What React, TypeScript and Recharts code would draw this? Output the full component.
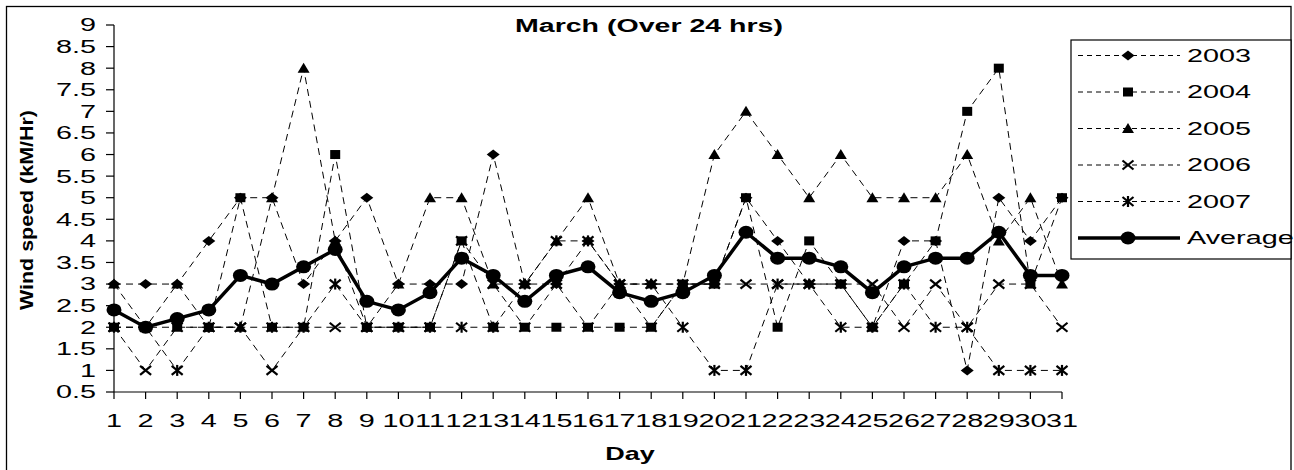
import React from 'react';
import { LineChart, Line, XAxis, YAxis } from 'recharts';

// Daily wind speed in March, 2003–2007, plus the five-year average
const days = ['1', '2', '3', '4', '5', '6', '7', '8', '9', '10', '11', '12', '13', '14', '15', '16',
  '17', '18', '19', '20', '21', '22', '23', '24', '25', '26', '27', '28', '29', '30', '31'];
const speed2003 = [3, 3, 3, 4, 5, 5, 3, 4, 5, 3, 3, 3, 6, 3, 3, 4, 3, 3, 3, 3, 5, 4, 3, 3, 2, 4, 4, 1, 5, 4, 5];
const speed2004 = [2, 2, 2, 2, 5, 2, 2, 6, 2, 2, 2, 4, 2, 2, 2, 2, 2, 2, 3, 3, 5, 2, 4, 3, 2, 3, 4, 7, 8, 3, 5];
const speed2005 = [3, 2, 3, 2, 2, 5, 8, 4, 2, 3, 5, 5, 3, 3, 4, 5, 3, 3, 3, 6, 7, 6, 5, 6, 5, 5, 5, 6, 4, 5, 3];
const speed2006 = [2, 1, 2, 2, 2, 1, 2, 2, 2, 2, 2, 4, 3, 2, 3, 2, 3, 2, 3, 3, 3, 3, 3, 3, 3, 2, 3, 2, 3, 3, 2];
const speed2007 = [2, 2, 1, 2, 2, 2, 2, 3, 2, 2, 2, 2, 2, 3, 4, 4, 3, 3, 2, 1, 1, 3, 3, 2, 2, 3, 2, 2, 1, 1, 1];
const speedAverage = [2.4, 2.0, 2.2, 2.4, 3.2, 3.0, 3.4, 3.8, 2.6, 2.4, 2.8, 3.6, 3.2, 2.6, 3.2, 3.4, 2.8, 2.6,
  2.8, 3.2, 4.2, 3.6, 3.6, 3.4, 2.8, 3.4, 3.6, 3.6, 4.2, 3.2, 3.2];
const yTicks = [0.5, 1, 1.5, 2, 2.5, 3, 3.5, 4, 4.5, 5, 5.5, 6, 6.5, 7, 7.5, 8, 8.5, 9];
const seriesNames = ['2003', '2004', '2005', '2006', '2007', 'Average'];

const rows = days.map((day, i) => ({
  day,
  '2003': speed2003[i],
  '2004': speed2004[i],
  '2005': speed2005[i],
  '2006': speed2006[i],
  '2007': speed2007[i],
  Average: speedAverage[i],
}));

const FONT = '"Liberation Sans", Arial, Helvetica, sans-serif';
const STRETCH = 1.6;
const DASH = '7 5';

type MarkProps = { cx?: number; cy?: number };

const Diamond = ({ cx = 0, cy = 0 }: MarkProps) => (
  <polygon points={`${cx - 6.5},${cy} ${cx},${cy - 5} ${cx + 6.5},${cy} ${cx},${cy + 5}`} fill="#000" />
);
const Square = ({ cx = 0, cy = 0 }: MarkProps) => (
  <rect x={cx - 5} y={cy - 4.5} width={10} height={9} fill="#000" />
);
const Triangle = ({ cx = 0, cy = 0 }: MarkProps) => (
  <polygon points={`${cx},${cy - 5.5} ${cx + 6},${cy + 4.5} ${cx - 6},${cy + 4.5}`} fill="#000" />
);
const Cross = ({ cx = 0, cy = 0 }: MarkProps) => (
  <g stroke="#000" strokeWidth={2.2}>
    <line x1={cx - 5.5} y1={cy - 4.5} x2={cx + 5.5} y2={cy + 4.5} />
    <line x1={cx - 5.5} y1={cy + 4.5} x2={cx + 5.5} y2={cy - 4.5} />
  </g>
);
const Star = ({ cx = 0, cy = 0 }: MarkProps) => (
  <g stroke="#000" strokeWidth={2.2}>
    <line x1={cx - 5.5} y1={cy - 4.5} x2={cx + 5.5} y2={cy + 4.5} />
    <line x1={cx - 5.5} y1={cy + 4.5} x2={cx + 5.5} y2={cy - 4.5} />
    <line x1={cx} y1={cy - 5.5} x2={cx} y2={cy + 5.5} />
  </g>
);
const Dot = ({ cx = 0, cy = 0 }: MarkProps) => <ellipse cx={cx} cy={cy} rx={7.5} ry={6.5} fill="#000" />;

const markers = [Diamond, Square, Triangle, Cross, Star, Dot];

const makeDot = (Mark: (p: MarkProps) => React.ReactElement, name: string) => (props: any) => (
  <Mark key={`${name}-${props.index}`} cx={props.cx} cy={props.cy} />
);

const XTick = (props: any) => {
  const { x, y, payload } = props;
  return (
    <text transform={`translate(${x} ${y}) scale(${STRETCH} 1)`} textAnchor="middle" dy="0.71em"
      fontFamily={FONT} fontSize={18} fill="#000">
      {payload.value}
    </text>
  );
};

const YTick = (props: any) => {
  const { x, y, payload } = props;
  return (
    <text transform={`translate(${x} ${y}) scale(${STRETCH} 1)`} textAnchor="end" dy="0.355em"
      fontFamily={FONT} fontSize={18} fill="#000">
      {payload.value}
    </text>
  );
};

const legendLeft = 1071;
const legendTop = 40;
const legendRowStart = 55.5;
const legendRowStep = 36.5;

export default function App() {
  return (
    <div style={{ position: 'absolute', left: 0, top: 0, width: 1294, height: 470, overflow: 'hidden', background: '#fff' }}>
      <LineChart width={1294} height={470} data={rows} margin={{ top: 25, right: 232, bottom: 0, left: 54 }}>
        <XAxis dataKey="day" type="category" padding={{ left: 0, right: 0 }} interval={0} height={78}
          axisLine={{ stroke: '#000', strokeWidth: 1.2 }} tickLine={{ stroke: '#000', strokeWidth: 1.2 }}
          tickSize={7} tickMargin={15} tick={<XTick />} />
        <YAxis type="number" domain={[0.5, 9]} ticks={yTicks} interval={0} width={60}
          axisLine={{ stroke: '#000', strokeWidth: 1.2 }} tickLine={{ stroke: '#000', strokeWidth: 1.2 }}
          tickSize={8} tickMargin={10} tick={<YTick />} allowDataOverflow />
        {seriesNames.slice(0, 5).map((name, i) => (
          <Line key={name} dataKey={name} type="linear" stroke="#000" strokeWidth={1}
            strokeDasharray={DASH} dot={makeDot(markers[i], name)} activeDot={false}
            isAnimationActive={false} />
        ))}
        <Line dataKey="Average" type="linear" stroke="#000" strokeWidth={3.5}
          dot={makeDot(Dot, 'Average')} activeDot={false} isAnimationActive={false} />
      </LineChart>
      <svg width={1294} height={470} style={{ position: 'absolute', left: 0, top: 0, pointerEvents: 'none' }}>
        <rect x={6.5} y={6.5} width={1284.5} height={480} fill="none" stroke="#000" strokeWidth={1.3} />
        <text x={649} y={32} textAnchor="middle" fontFamily={FONT} fontWeight="bold" fontSize={18}
          textLength={268} lengthAdjust="spacingAndGlyphs" fill="#000">March (Over 24 hrs)</text>
        <text transform={`translate(630 460) scale(1.5 1)`} textAnchor="middle" fontFamily={FONT}
          fontWeight="bold" fontSize={18} fill="#000">Day</text>
        <text transform="translate(33 210) rotate(-90)" textAnchor="middle" fontFamily={FONT}
          fontWeight="bold" fontSize={18} textLength={200} lengthAdjust="spacingAndGlyphs" fill="#000">
          Wind speed (kM/Hr)
        </text>
        <rect x={legendLeft} y={legendTop} width={220} height={219} fill="#fff" stroke="#000" strokeWidth={1.2} />
        {seriesNames.map((name, i) => {
          const y = legendRowStart + i * legendRowStep;
          const Mark = markers[i];
          const isAverage = name === 'Average';
          return (
            <g key={name}>
              <line x1={1078} y1={y} x2={1180} y2={y} stroke="#000"
                strokeWidth={isAverage ? 3.5 : 1} strokeDasharray={isAverage ? undefined : '5 4'} />
              <Mark cx={1128} cy={y} />
              <text transform={`translate(1187 ${y}) scale(${STRETCH} 1)`} dy="0.355em" fontFamily={FONT}
                fontSize={18} fill="#000">{name}</text>
            </g>
          );
        })}
      </svg>
    </div>
  );
}
